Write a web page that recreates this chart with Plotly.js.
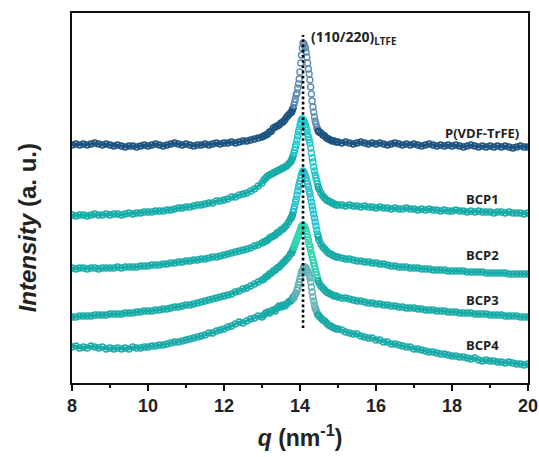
<!DOCTYPE html>
<html>
<head>
<meta charset="utf-8">
<script src="https://cdn.plot.ly/plotly-3.0.1.min.js"></script>
<style>html,body{margin:0;padding:0;background:#fff;}#chart{width:539px;height:457px;}</style>
</head>
<body>
<div id="chart"></div>
<script>
// q values (nm^-1), shared by all curves
const q = [
8.0,8.1,8.2,8.3,8.4,8.5,8.6,8.7,8.8,8.9,
9.0,9.1,9.2,9.3,9.4,9.5,9.6,9.7,9.8,9.9,
10.0,10.1,10.2,10.3,10.4,10.5,10.6,10.7,10.8,10.9,
11.0,11.1,11.2,11.3,11.4,11.5,11.6,11.7,11.8,11.9,
12.0,12.1,12.2,12.3,12.4,12.5,12.6,12.7,12.8,12.9,
13.0,
13.05,13.1,13.15,13.2,13.25,13.3,13.35,13.4,13.45,13.5,13.55,13.6,13.65,13.7,13.75,
13.78,13.8,13.82,13.84,13.86,13.88,13.9,13.92,13.94,13.96,13.98,14.0,14.02,14.04,14.06,14.08,
14.1,14.12,14.14,14.16,14.18,14.2,14.22,14.24,14.26,14.28,14.3,14.32,14.34,14.36,14.38,14.4,
14.42,14.44,14.46,14.48,14.5,
14.55,14.6,14.65,14.7,14.75,14.8,14.85,14.9,14.95,15.0,
15.1,15.2,15.3,15.4,15.5,15.6,15.7,15.8,15.9,16.0,
16.1,16.2,16.3,16.4,16.5,16.6,16.7,16.8,16.9,17.0,
17.1,17.2,17.3,17.4,17.5,17.6,17.7,17.8,17.9,18.0,
18.1,18.2,18.3,18.4,18.5,18.6,18.7,18.8,18.9,19.0,
19.1,19.2,19.3,19.4,19.5,19.6,19.7,19.8,19.9,20.0
];

// Intensities (a. u., curves offset vertically)
const pvdf = [
238,239,238,239,238,239,240,239,238,239,
238,237,238,237,236,237,237,236,237,238,
237,238,239,238,237,238,239,240,239,238,
239,238,237,238,238,239,238,239,240,239,
240,240,241,240,241,242,242,243,244,245,
246,
247,248,249,251,252,255,256,257,258,260,261,263,266,268,270,
271,273,275,278,281,284,288,290,295,299,304,311,320,328,335,340,
339,337,335,331,326,320,314,309,303,296,289,282,276,271,266,262,
259,256,254,252,251,
250,248,247,245,244,243,242,242,241,241,
240,241,240,239,240,241,240,239,240,239,
240,239,238,239,240,239,238,239,238,239,
238,237,238,239,238,237,238,237,238,237,
238,237,236,237,238,237,236,237,236,237,
236,237,236,237,236,235,236,237,236,236
];

const bcp1 = [
168,167,168,168,167,168,169,168,168,169,
168,169,169,168,169,170,169,170,170,171,
171,171,172,172,172,173,173,174,175,175,
176,176,177,178,178,179,180,180,182,182,
183,184,186,186,188,189,190,192,194,197,
200,
203,205,207,208,209,210,211,212,213,214,215,216,217,219,221,
223,225,227,230,233,236,239,243,247,251,254,258,261,263,264,263,
262,260,258,256,253,249,246,243,240,235,230,225,221,216,212,208,
205,202,199,196,194,
190,187,185,183,182,181,180,179,178,178,
178,177,178,177,177,176,177,176,176,175,
176,175,175,174,175,174,174,175,174,174,
173,174,173,174,173,173,172,173,172,172,
173,172,172,171,172,171,172,171,171,171,
170,171,171,170,171,170,170,170,169,170
];

const bcp2 = [
115,114,115,115,114,115,115,114,115,115,
115,115,116,115,116,116,116,116,117,117,
117,118,118,118,119,119,120,120,121,121,
122,122,123,123,124,124,125,126,126,127,
128,129,130,131,132,133,134,135,137,138,
140,
141,142,143,145,146,147,148,150,151,153,154,156,158,161,164,
166,168,171,174,177,181,184,188,192,196,199,202,205,208,211,212,
211,209,207,205,202,199,196,192,189,185,181,177,173,169,165,161,
157,153,149,146,143,
139,136,134,132,130,129,128,127,126,126,
125,124,124,123,122,122,121,121,120,120,
119,119,118,117,117,116,116,116,115,115,
115,114,114,114,113,113,113,113,112,112,
112,112,112,111,111,111,111,111,110,110,
110,110,110,110,109,109,109,109,109,109
];

const bcp3 = [
66,66,67,67,67,67,68,68,68,68,
69,69,69,69,70,70,70,71,71,72,
72,72,73,73,74,74,75,76,76,77,
78,78,79,80,81,82,83,84,85,86,
87,88,89,91,92,94,95,97,99,101,
103,
104,106,107,109,110,112,113,115,116,118,120,122,124,126,129,
130,132,134,136,138,140,142,144,146,148,150,152,154,156,157,158,
157,156,154,152,149,146,143,139,136,133,129,126,123,120,117,114,
111,108,105,102,100,
97,95,93,91,90,89,88,87,87,86,
85,85,84,83,82,82,81,80,80,79,
79,78,78,77,77,76,76,75,75,75,
74,74,73,73,73,72,72,72,71,71,
71,70,70,70,70,69,69,69,69,68,
68,68,68,67,67,67,67,66,66,66
];

const bcp4 = [
36,37,35,36,35,37,36,35,36,34,
35,34,35,34,35,34,36,35,35,36,
36,37,37,38,38,39,40,41,41,42,
43,44,45,46,47,48,50,50,52,53,
54,56,57,59,61,60,62,64,65,67,
66,
68,70,71,70,72,73,72,75,77,76,78,77,79,81,82,
83,84,86,85,87,89,90,93,95,98,101,104,107,110,112,114,
116,116,115,115,113,112,110,108,105,101,96,91,86,82,78,75,
73,71,69,68,67,
65,63,62,60,58,57,56,55,54,54,
53,51,50,49,49,47,46,45,45,43,
43,41,41,39,39,38,37,36,36,34,
34,33,32,31,31,30,29,29,28,27,
27,26,26,25,24,25,23,22,23,22,
22,21,21,20,21,20,19,19,18,19
];

const seriesNames = ['P(VDF-TrFE)', 'BCP1', 'BCP2', 'BCP3', 'BCP4'];
const seriesData = [pvdf, bcp1, bcp2, bcp3, bcp4];
const labelQ = 18.79;
const labelY = [250, 184, 128, 83, 38];

// x tick labels
const xTickVals = [8, 10, 12, 14, 16, 18, 20];
const xTickText = ['8', '10', '12', '14', '16', '18', '20'];

// peak reference line
const peakQ = [14.08, 14.08];
const peakY = [55, 348];
const peakLabel = '(110/220)<sub>LTFE</sub>';
const peakLabelPos = [14.24, 346];

const baseColors = ['#1d5380', '#16aca8', '#17aca8', '#16aba6', '#1aaaa8'];
const peakColors = ['#5f8db3', '#1cc9cc', '#24c2d2', '#2ed6ae', '#62b3b8'];
const inPeak = v => (v >= 13.84 && v <= 14.46);

const traces = [];
// solid band under the dense (flat) parts of each curve
seriesData.forEach((ys, i) => {
  traces.push({
    type: 'scatter', mode: 'lines', x: q,
    y: ys.map((v, j) => inPeak(q[j]) ? null : v),
    connectgaps: false,
    line: {color: baseColors[i], width: 3},
    hoverinfo: 'skip', showlegend: false
  });
});
seriesData.forEach((ys, i) => {
  traces.push({
    type: 'scatter', mode: 'markers', name: seriesNames[i],
    x: q, y: ys,
    marker: {
      symbol: 'circle-open', size: 6,
      color: q.map(v => inPeak(v) ? peakColors[i] : baseColors[i]),
      line: {width: 1.4}
    },
    hoverinfo: 'x+y+name'
  });
});

traces.push({
  type: 'scatter', mode: 'lines', x: peakQ, y: peakY,
  line: {color: '#000', width: 2.6, dash: '2.6px,2.6px'},
  hoverinfo: 'skip', showlegend: false
});

const annotations = seriesNames.map((n, i) => ({
  x: labelQ, y: labelY[i], xref: 'x', yref: 'y',
  text: '<b>' + n + '</b>', showarrow: false, xanchor: 'center', yanchor: 'middle',
  font: {family: 'Open Sans', size: 13, color: '#222'}
}));
annotations.push({
  x: peakLabelPos[0], y: peakLabelPos[1], xref: 'x', yref: 'y',
  text: '<b>' + peakLabel + '</b>', showarrow: false, xanchor: 'left', yanchor: 'middle',
  font: {family: 'Open Sans', size: 14, color: '#222'}
});
annotations.push({
  x: -0.097, y: 0.42, xref: 'paper', yref: 'paper',
  text: '<b><i>Intensity</i> (a. u.)</b>', showarrow: false, textangle: -90,
  xanchor: 'center', yanchor: 'middle',
  font: {family: 'Liberation Sans', size: 24, color: '#222'}
});

const layout = {
  width: 539, height: 457,
  margin: {l: 72, r: 11, t: 13, b: 74},
  paper_bgcolor: '#fff', plot_bgcolor: '#fff',
  showlegend: false,
  xaxis: {
    range: [8, 20], tickmode: 'array', tickvals: xTickVals,
    ticktext: xTickText.map(t => '<b>' + t + '</b>'),
    ticks: 'outside', ticklen: 6, tickwidth: 1.5, tickcolor: '#111',
    minor: {tickmode: 'linear', tick0: 8, dtick: 1, ticks: 'outside', ticklen: 3.5, tickwidth: 1.5, tickcolor: '#111'},
    showline: true, linewidth: 1.8, linecolor: '#111', mirror: true,
    showgrid: false, zeroline: false,
    tickfont: {family: 'Liberation Sans', size: 18, color: '#222'},
    title: {text: '<b><i>q</i> (nm<sup>-1</sup>)</b>', standoff: 14,
            font: {family: 'Liberation Sans', size: 23, color: '#222'}}
  },
  yaxis: {
    range: [0, 370],
    showticklabels: false, ticks: '',
    showline: true, linewidth: 1.8, linecolor: '#111', mirror: true,
    showgrid: false, zeroline: false
  },
  annotations: annotations
};

Plotly.newPlot('chart', traces, layout, {displayModeBar: false, staticPlot: true});
</script>
</body>
</html>
